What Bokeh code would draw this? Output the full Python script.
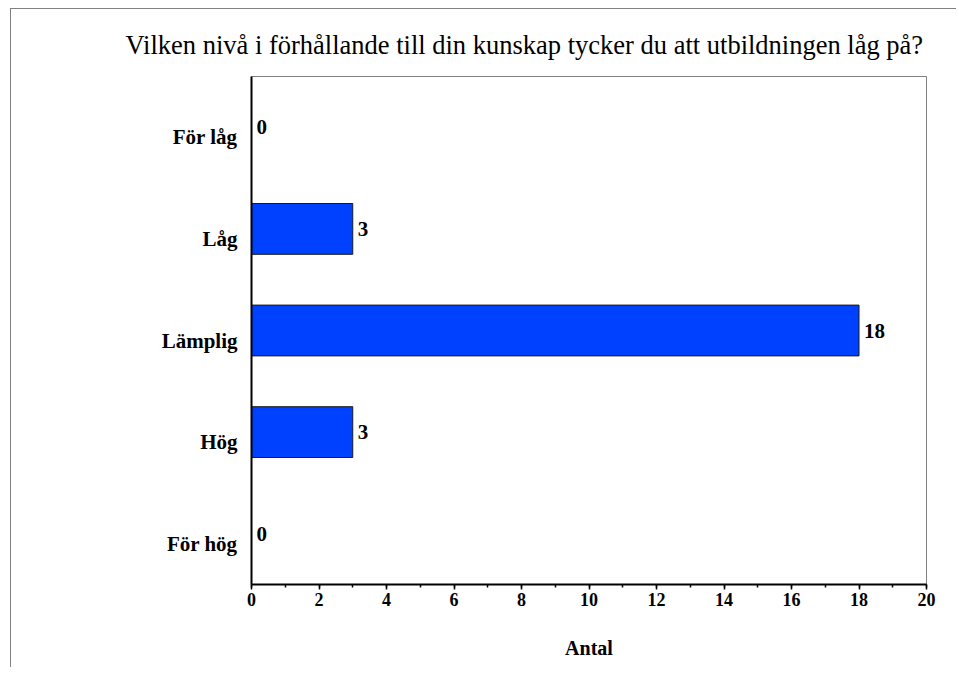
from bokeh.plotting import figure
from bokeh.models import Range1d, FixedTicker, SingleIntervalTicker, ColumnDataSource
from bokeh.core.properties import value
from bokeh.embed import file_html
from bokeh.resources import INLINE

categories = ["För låg", "Låg", "Lämplig", "Hög", "För hög"]
counts = [0, 3, 18, 3, 0]
title_text = "Vilken nivå i förhållande till din kunskap tycker du att utbildningen låg på?"
x_label = "Antal"

n = len(categories)
ys = [n - 0.5 - i for i in range(n)]
label_ticks = [round(y - 0.1, 3) for y in ys]

FONT = "Liberation Serif"

p = figure(width=946, height=659, output_backend="svg", toolbar_location=None,
           x_range=Range1d(0, 20), y_range=Range1d(0, n),
           min_border_left=240, min_border_right=31, min_border_top=67, min_border_bottom=84,
           title=title_text)
p.styles = {"border-left": "1px solid #808080", "border-top": "1px solid #808080",
            "margin-left": "10px", "margin-top": "8px"}

p.title.align = "left"
p.title.offset = -126
p.title.standoff = 34
p.title.text_font = FONT
p.title.text_font_style = "normal"
p.title.text_font_size = "26.5px"
p.title.text_color = "black"

p.grid.visible = False
p.outline_line_color = "#808080"
p.outline_line_width = 1
p.background_fill_color = "white"
p.border_fill_color = "white"

src = ColumnDataSource(dict(y=ys, v=counts, t=[str(c) for c in counts]))
p.hbar(y="y", right="v", left=0, height=0.5, source=src,
       fill_color="#0040ff", line_color="#1a1a1a", line_width=1)
p.text(x="v", y="y", text="t", source=src, x_offset=5,
       text_baseline="middle", text_align="left",
       text_font=value(FONT), text_font_style="bold", text_font_size="21px",
       text_color="black")

# x axis
xa = p.xaxis[0]
xa.ticker = SingleIntervalTicker(interval=2, num_minor_ticks=2)
xa.axis_line_color = "black"
xa.axis_line_width = 2
xa.major_tick_in = 0
xa.major_tick_out = 5
xa.major_tick_line_width = 1.5
xa.major_tick_line_color = "black"
xa.minor_tick_in = 0
xa.minor_tick_out = 3
xa.minor_tick_line_width = 1.5
xa.minor_tick_line_color = "black"
xa.major_label_text_font = FONT
xa.major_label_text_font_style = "bold"
xa.major_label_text_font_size = "18px"
xa.major_label_text_color = "black"
xa.major_label_standoff = 3
xa.axis_label = x_label
xa.axis_label_text_font = FONT
xa.axis_label_text_font_style = "bold"
xa.axis_label_text_font_size = "20px"
xa.axis_label_text_color = "black"
xa.axis_label_standoff = 28

# y axis
ya = p.yaxis[0]
ya.ticker = FixedTicker(ticks=label_ticks, minor_ticks=[])
ya.major_label_overrides = {t: c for t, c in zip(label_ticks, categories)}
ya.axis_line_color = "black"
ya.axis_line_width = 2
ya.major_tick_line_color = None
ya.minor_tick_line_color = None
ya.major_tick_in = 0
ya.major_tick_out = 0
ya.major_label_standoff = 14
ya.major_label_text_font = FONT
ya.major_label_text_font_style = "bold"
ya.major_label_text_font_size = "21px"
ya.major_label_text_color = "black"

open("out.html", "w").write(file_html(p, INLINE))
